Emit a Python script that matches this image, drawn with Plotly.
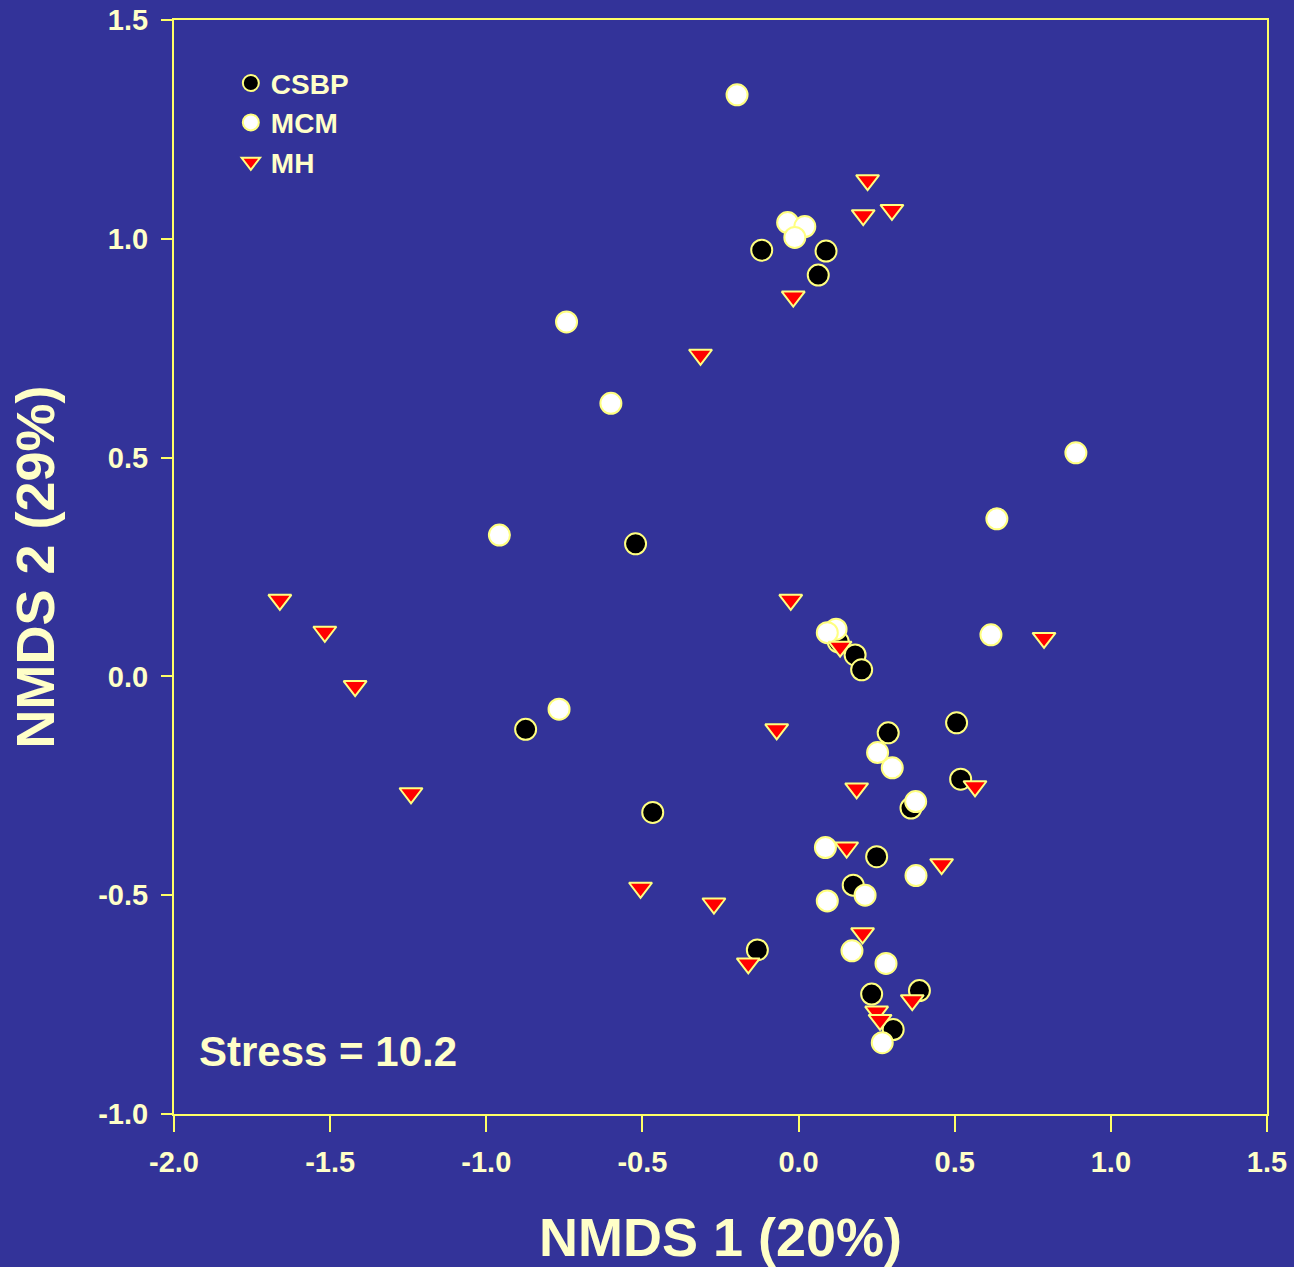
import plotly.graph_objects as go

# ---- data ----
csbp_x = [-0.118, 0.088, 0.063, -0.522, -0.874, -0.467, 0.127, 0.181, 0.202, 0.506,
          0.287, 0.519, 0.360, 0.250, 0.175, -0.132, 0.234, 0.387, 0.303]
csbp_y = [0.974, 0.972, 0.917, 0.303, -0.121, -0.311, 0.079, 0.049, 0.015, -0.106,
          -0.129, -0.235, -0.301, -0.412, -0.477, -0.625, -0.726, -0.718, -0.807]

mcm_x = [-0.197, -0.035, 0.020, -0.012, -0.743, -0.601, 0.888, 0.635, -0.958, 0.120,
         0.092, 0.616, -0.767, 0.253, 0.300, 0.375, 0.086, 0.376, 0.213, 0.092,
         0.171, 0.280, 0.268]
mcm_y = [1.329, 1.037, 1.028, 1.003, 0.810, 0.624, 0.511, 0.360, 0.323, 0.108,
         0.100, 0.095, -0.075, -0.174, -0.209, -0.286, -0.391, -0.455, -0.500, -0.513,
         -0.627, -0.656, -0.837]

mh_x = [-1.661, -1.517, -1.420, -1.241, -0.506, 0.221, 0.207, 0.299, -0.017, -0.314,
        -0.025, 0.786, 0.133, -0.070, 0.565, 0.186, 0.154, 0.458, -0.271, 0.205,
        -0.161, 0.364, 0.250, 0.261]
mh_y = [0.175, 0.102, -0.022, -0.267, -0.483, 1.134, 1.054, 1.066, 0.868, 0.735,
        0.175, 0.088, 0.068, -0.121, -0.251, -0.256, -0.391, -0.429, -0.519, -0.587,
        -0.656, -0.740, -0.766, -0.785]

x_tickvals = [-2.0, -1.5, -1.0, -0.5, 0.0, 0.5, 1.0, 1.5]
x_ticktext = ["-2.0", "-1.5", "-1.0", "-0.5", "0.0", "0.5", "1.0", "1.5"]
y_tickvals = [-1.0, -0.5, 0.0, 0.5, 1.0, 1.5]
y_ticktext = ["-1.0", "-0.5", "0.0", "0.5", "1.0", "1.5"]

stress_label = "Stress = 10.2"
x_title = "NMDS 1 (20%)"
y_title = "NMDS 2 (29%)"

# ---- styles ----
BG = "#333399"
TXT = "#FFFFC8"
AXL = "#FFFF66"
OUTL = "#FFFF80"
FONT = "Liberation Sans, Arial, sans-serif"

fig = go.Figure()
fig.add_trace(go.Scatter(
    x=csbp_x, y=csbp_y, mode="markers", name="CSBP",
    marker=dict(symbol="circle", size=21, color="black", line=dict(color=OUTL, width=2))))
fig.add_trace(go.Scatter(
    x=mcm_x, y=mcm_y, mode="markers", name="MCM",
    marker=dict(symbol="circle", size=21, color="white", line=dict(color=OUTL, width=2))))
fig.add_trace(go.Scatter(
    x=mh_x, y=mh_y, mode="markers", name="MH",
    marker=dict(symbol="triangle-down", size=20, color="#FF0000", line=dict(color=OUTL, width=2))))

fig.add_annotation(
    x=-1.926, y=-0.858, xref="x", yref="y", text=stress_label, showarrow=False,
    xanchor="left", yanchor="middle",
    font=dict(family=FONT, size=42, color=TXT, weight="bold"))

axis_common = dict(
    showgrid=False, zeroline=False, showline=True, linecolor=AXL, linewidth=2,
    mirror=True, ticks="outside", tickcolor=AXL, tickwidth=2, automargin=False,
    tickfont=dict(family=FONT, size=29, color=TXT, weight="bold"),
)

fig.update_layout(
    width=1294, height=1267,
    paper_bgcolor=BG, plot_bgcolor=BG,
    margin=dict(l=174, r=27, t=20, b=153),
    showlegend=True,
    legend=dict(
        x=0.052, y=0.965, xanchor="left", yanchor="top",
        bgcolor="rgba(0,0,0,0)", borderwidth=0,
        font=dict(family=FONT, size=28, color=TXT, weight="bold"),
        itemsizing="trace",
    ),
    xaxis=dict(
        range=[-2.0, 1.5], tickvals=x_tickvals, ticktext=x_ticktext, ticklen=16,
        ticklabelstandoff=5,
        title=dict(text=x_title, font=dict(family=FONT, size=54, color=TXT, weight="bold"),
                   standoff=50),
        **axis_common),
    yaxis=dict(
        range=[-1.0, 1.5], tickvals=y_tickvals, ticktext=y_ticktext, ticklen=11,
        ticklabelstandoff=7,
        title=dict(text=y_title, font=dict(family=FONT, size=54, color=TXT, weight="bold"),
                   standoff=26),
        **axis_common),
)

fig.write_html(
    "out.html",
    config={"displayModeBar": False},
    post_script="document.body.style.margin='0';document.body.style.overflow='hidden';",
)
